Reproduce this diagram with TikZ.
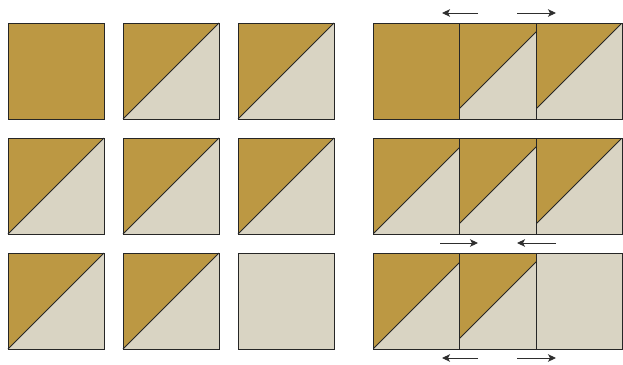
\documentclass[tikz,border=0pt]{standalone}
\usetikzlibrary{arrows.meta}
\definecolor{QuiltGold}{HTML}{BC9843}
\definecolor{QuiltCream}{HTML}{D9D4C3}
\definecolor{PressGray}{HTML}{2E2E2E}

% half-square triangle, top-left corner at (#1,#2)
\newcommand{\hstpiece}[2]{%
  \fill[QuiltCream] (#1,#2) rectangle ++(96,96);
  \fill[QuiltGold] (#1,#2+96) -- (#1,#2) -- (#1+96,#2) -- cycle;
  \draw[diag] (#1,#2+96) -- (#1+96,#2);
}
% plain square, top-left corner at (#1,#2), colour #3
\newcommand{\plainpiece}[3]{\fill[#3] (#1,#2) rectangle ++(96,96);}
% sewn piece: visible from x=#1 to x=#2 in the row at y=#3
\newcommand{\sewnpiece}[4]{%
  \begin{scope}
    \clip (#1,#3) rectangle (#2,#3+96);
    #4
  \end{scope}
  \draw[edge] (#1,#3) rectangle (#2,#3+96);
}

\begin{document}
\begin{tikzpicture}[x=1pt, y=-1pt,
    diag/.style={draw=black!85, line width=0.8pt},
    edge/.style={draw=black!85, line width=0.9pt},
    press/.style={-{Stealth[length=8pt, width=7.5pt, inset=2pt]}, line width=0.9pt, PressGray}
]
  \useasboundingbox (0,0) rectangle (623,364);

  % Blocks laid out
  \plainpiece{8}{23}{QuiltGold}
  \hstpiece{123}{23}
  \hstpiece{238}{23}
  \foreach \x in {8,123,238}{
    \hstpiece{\x}{138}
  }
  \hstpiece{8}{253}
  \hstpiece{123}{253}
  \plainpiece{238}{253}{QuiltCream}
  \foreach \x in {8,123,238}{
    \foreach \y in {23,138,253}{
      \draw[edge] (\x,\y) rectangle ++(96,96);
    }
  }

  % Rows sewn
  \sewnpiece{373}{459}{23}{\plainpiece{373}{23}{QuiltGold}}
  \sewnpiece{459}{536}{23}{\hstpiece{449}{23}}
  \sewnpiece{536}{622}{23}{\hstpiece{526}{23}}

  \sewnpiece{373}{459}{138}{\hstpiece{373}{138}}
  \sewnpiece{459}{536}{138}{\hstpiece{449}{138}}
  \sewnpiece{536}{622}{138}{\hstpiece{526}{138}}

  \sewnpiece{373}{459}{253}{\hstpiece{373}{253}}
  \sewnpiece{459}{536}{253}{\hstpiece{449}{253}}
  \sewnpiece{536}{622}{253}{\plainpiece{526}{253}{QuiltCream}}

  % Pressing arrows
  \draw[press] (478,13) -- (442,13);
  \draw[press] (517,13) -- (556,13);
  \draw[press] (440,243) -- (478,243);
  \draw[press] (556,243) -- (517,243);
  \draw[press] (478,358) -- (442,358);
  \draw[press] (517,358) -- (556,358);
\end{tikzpicture}
\end{document}
